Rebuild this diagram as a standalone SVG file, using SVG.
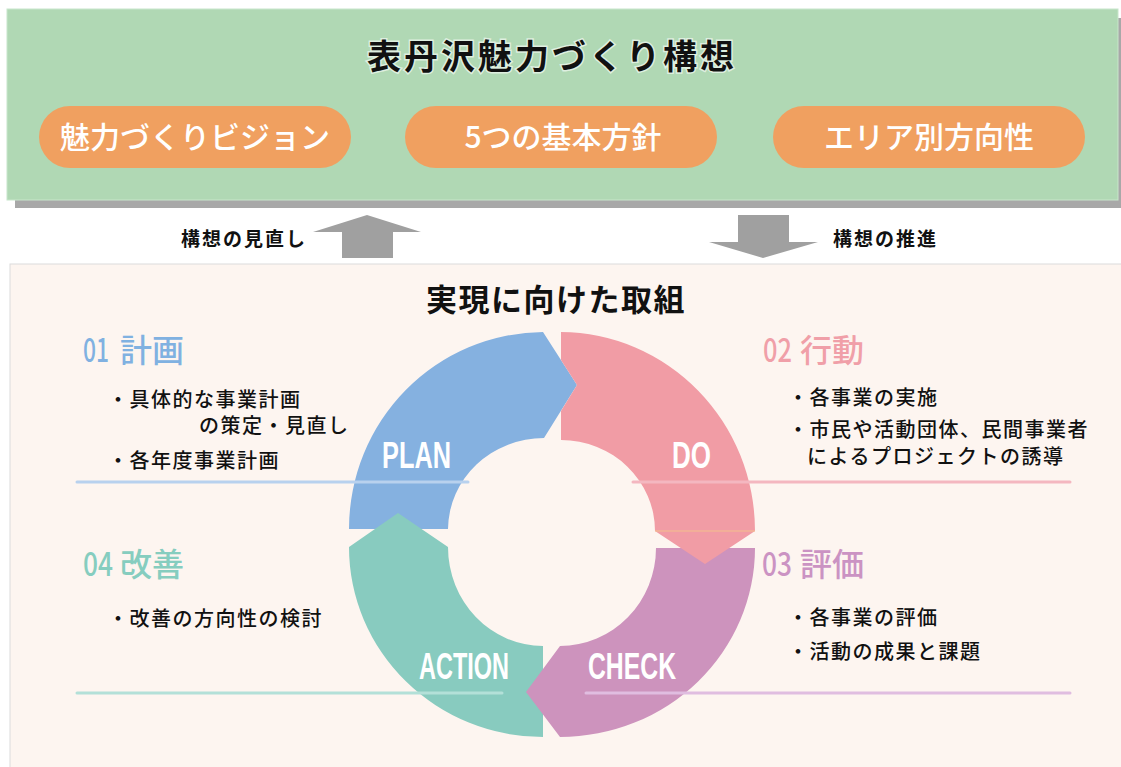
<svg xmlns="http://www.w3.org/2000/svg" width="1121" height="767" viewBox="0 0 1121 767">
<style>
.jp{font-family:"Noto Sans CJK JP","Noto Sans",sans-serif}
.pill{fill:#f0a060}
.pilltxt{font-family:"Noto Sans CJK JP",sans-serif;font-size:30px;fill:#fff;text-anchor:middle;font-weight:500}
.lbl{font-family:"Noto Sans CJK JP",sans-serif;font-size:19px;letter-spacing:2px;font-weight:700;fill:#111}
.head{font-family:"Noto Sans CJK JP",sans-serif;font-size:32px;font-weight:500}
.bul{font-family:"Noto Sans CJK JP",sans-serif;font-size:20px;letter-spacing:1.5px;fill:#111;font-weight:500}
.seg{font-family:"Liberation Sans",sans-serif;font-size:37px;fill:#fff;font-weight:700}
.arrow{fill:#a0a0a0}
</style>
<rect width="1121" height="767" fill="#ffffff"/>
<g id="concept">
  <rect x="15" y="18" width="1110" height="190" fill="#a8a8a8"/>
  <rect x="7" y="9" width="1111" height="191" fill="#b0d8b4" stroke="#c8e6cb" stroke-width="1"/>
  <text x="552" y="69" class="jp" font-size="34" font-weight="700" letter-spacing="3" text-anchor="middle" fill="#111" stroke="#ffffff" stroke-width="3" stroke-opacity="0.6" paint-order="stroke">表丹沢魅力づくり構想</text>
</g>
<g id="pill-vision"><rect class="pill" x="39" y="106" width="312" height="62" rx="31"/><text class="pilltxt" x="195" y="148">魅力づくりビジョン</text></g>
<g id="pill-policy"><rect class="pill" x="405" y="106" width="312" height="62" rx="31"/><text class="pilltxt" x="563" y="148">5つの基本方針</text></g>
<g id="pill-area"><rect class="pill" x="773" y="106" width="312" height="62" rx="31"/><text class="pilltxt" x="929" y="148">エリア別方向性</text></g>
<g id="connectors">
  <path class="arrow" d="M342,258 L342,232 L313,232 L367,215 L421,232 L393,232 L393,258 Z"/>
  <path class="arrow" d="M738,215 L789,215 L789,242 L818,242 L763,258 L709,242 L738,242 Z"/>
  <text class="lbl" x="181" y="246">構想の見直し</text>
  <text class="lbl" x="833" y="246">構想の推進</text>
</g>
<g id="initiatives">
  <rect x="10" y="264" width="1120" height="510" fill="#fdf5f0" stroke="#dcdcdc" stroke-width="1"/>
  <text x="556" y="311" class="jp" font-size="31" font-weight="700" letter-spacing="1.5" text-anchor="middle" fill="#111">実現に向けた取組</text>
</g>
<g id="plan">
  <path fill="#85b1e0" d="M349,529 A195,197 0 0 1 543,332 L577,385 L544,438 A96,92 0 0 0 448,529 Z"/>
  <text class="seg" x="382" y="468" textLength="69" lengthAdjust="spacingAndGlyphs">PLAN</text>
</g>
<g id="action">
  <path fill="#88cbbf" d="M543,646 L543,737 A194,190 0 0 1 349,547 L398,513 L448,547 A95,99 0 0 0 543,646 Z"/>
  <text class="seg" x="419" y="679" textLength="90" lengthAdjust="spacingAndGlyphs">ACTION</text>
</g>
<g id="check">
  <path fill="#cd93bd" d="M656,548 L755,548 A195,189 0 0 1 560,737 L526,692 L560,646 A96,98 0 0 0 656,548 Z"/>
  <text class="seg" x="588" y="679" textLength="88" lengthAdjust="spacingAndGlyphs">CHECK</text>
</g>
<g id="do">
  <path fill="#f19ca5" d="M561,332 A195,199 0 0 1 755,531 L705,564 L655,531 A94,91 0 0 0 561,440 L561,411 L577,385 L561,360 Z"/>
  <line x1="655" y1="531" x2="755" y2="531" stroke="#f4c08c" stroke-width="1"/>
  <text class="seg" x="672" y="468" textLength="39" lengthAdjust="spacingAndGlyphs">DO</text>
</g>
<g id="rules">
  <line x1="77" y1="482" x2="468" y2="482" stroke="#b8d1ee" stroke-width="3" stroke-linecap="round"/>
  <line x1="633" y1="482" x2="1070" y2="482" stroke="#f4b7c0" stroke-width="3" stroke-linecap="round"/>
  <line x1="77" y1="693" x2="502" y2="693" stroke="#b3e0d8" stroke-width="3" stroke-linecap="round"/>
  <line x1="586" y1="693" x2="1070" y2="693" stroke="#e0bde0" stroke-width="3" stroke-linecap="round"/>
</g>
<g id="sec-plan">
  <text class="head" y="362" fill="#80b1e1"><tspan x="83" textLength="26" lengthAdjust="spacingAndGlyphs">01</tspan><tspan x="120"> </tspan><tspan x="120">計画</tspan></text>
  <text class="bul" x="108" y="407">・具体的な事業計画</text>
  <text class="bul" x="199" y="433">の策定・見直し</text>
  <text class="bul" x="108" y="468">・各年度事業計画</text>
</g>
<g id="sec-do">
  <text class="head" y="362" fill="#f09fa8"><tspan x="763" textLength="29" lengthAdjust="spacingAndGlyphs">02</tspan><tspan x="800"> </tspan><tspan x="800">行動</tspan></text>
  <text class="bul" x="788" y="405">・各事業の実施</text>
  <text class="bul" x="788" y="437">・市民や活動団体、民間事業者</text>
  <text class="bul" x="807" y="464">によるプロジェクトの誘導</text>
</g>
<g id="sec-check">
  <text class="head" y="576" fill="#cb93c3"><tspan x="762" textLength="30" lengthAdjust="spacingAndGlyphs">03</tspan><tspan x="800"> </tspan><tspan x="800">評価</tspan></text>
  <text class="bul" x="788" y="625">・各事業の評価</text>
  <text class="bul" x="788" y="659">・活動の成果と課題</text>
</g>
<g id="sec-action">
  <text class="head" y="576" fill="#86cdbf"><tspan x="83" textLength="30" lengthAdjust="spacingAndGlyphs">04</tspan><tspan x="120"> </tspan><tspan x="120">改善</tspan></text>
  <text class="bul" x="108" y="626">・改善の方向性の検討</text>
</g>
</svg>
